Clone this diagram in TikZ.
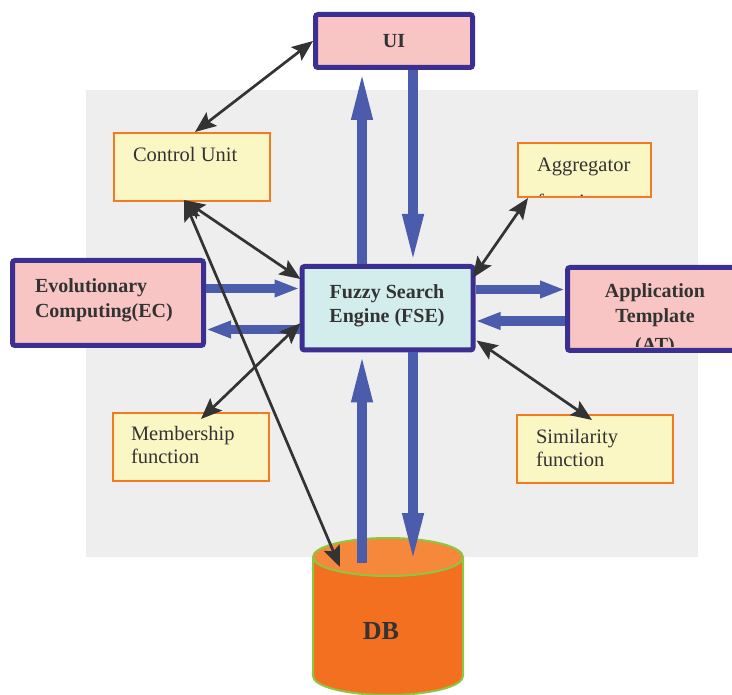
\documentclass[tikz,border=0pt]{standalone}
\usepackage{fontspec}
\setmainfont{Liberation Serif}
\usetikzlibrary{arrows.meta,calc}
\definecolor{panel}{HTML}{EEEEEE}
\definecolor{rose}{HTML}{F9C4C4}
\definecolor{frame}{HTML}{3B2F92}
\definecolor{cream}{HTML}{FBF7C5}
\definecolor{amber}{HTML}{F47A22}
\definecolor{ice}{HTML}{D3ECEC}
\definecolor{flowblue}{HTML}{4A5CAB}
\definecolor{ink}{HTML}{333333}
\definecolor{dbbody}{HTML}{F37021}
\definecolor{dbtop}{HTML}{F5883B}
\definecolor{dbrim}{HTML}{8DC63F}
\tikzset{
  mainbox/.style={draw=frame, line width=5pt, fill=rose, rounded corners=2.5pt, inner sep=0pt},
  notebox/.style={draw=amber, line width=2pt, fill=cream, inner sep=0pt},
  txt/.style={inner sep=0pt, outer sep=0pt, text=ink, anchor=base west, font=\fontsize{20.5}{24}\selectfont},
  btxt/.style={txt, font=\fontsize{20}{24}\selectfont\bfseries},
  flow/.style={draw=flowblue, line width=9.5pt, -{Triangle[length=25pt,width=16pt]}},
  longflow/.style={flow, -{Triangle[length=50pt,width=19pt]}},
  link/.style={draw=ink, line width=2.7pt, {Stealth[length=21pt,width=17pt,inset=4pt]}-{Stealth[length=21pt,width=17pt,inset=4pt]}}
}
\begin{document}
\begin{tikzpicture}[x=1pt,y=-1pt]
\useasboundingbox (0,0) rectangle (732,695);

% backdrop panel
\fill[panel] (86,90) rectangle (698,557);

% database cylinder
\draw[dbrim, line width=2pt, fill=dbbody] (313,557) -- (313,676)
  arc[start angle=180, end angle=0, x radius=75, y radius=19] -- (463,557);
\draw[dbrim, line width=2pt, fill=dbtop] (388,557) ellipse [x radius=75, y radius=19];
\node[btxt, anchor=base, font=\fontsize{26}{30}\selectfont\bfseries] (dbname) at (381,639) {DB};
\coordinate (dbin) at (388,563);
\coordinate (dbhit) at (340,567);

% main blocks
\node[mainbox, minimum width=157pt, minimum height=53pt] (ui) at (394,41) {};
\node[mainbox, minimum width=191pt, minimum height=85pt] (ec) at (108,303) {};
\node[mainbox, fill=ice, minimum width=171pt, minimum height=83.5pt] (fse) at (387.5,308.25) {};
\node[mainbox, minimum width=174.5pt, minimum height=83pt] (at) at (654.75,309) {};

% side notes
\node[notebox, minimum width=156pt, minimum height=68pt] (cu) at (192,167) {};
\node[notebox, minimum width=133pt, minimum height=54pt] (ag) at (584.5,170) {};
\node[notebox, minimum width=156pt, minimum height=68pt] (mf) at (191,447) {};
\node[notebox, minimum width=156pt, minimum height=68pt] (sf) at (595,449) {};

% labels
\node[btxt, anchor=base] (uit) at (394,48) {UI};
\node[btxt] (ec1) at (35,293) {Evolutionary};
\node[btxt] (ec2) at (35,318) {Computing(EC)};
\node[btxt, anchor=base] (fse1) at (387,299) {Fuzzy Search};
\node[btxt, anchor=base] (fse2) at (387,323) {Engine (FSE)};
\begin{scope}
  \clip (570,270) rectangle (732,347);
  \node[btxt, anchor=base] (at1) at (655,298) {Application};
  \node[btxt, anchor=base] (at2) at (655,323) {Template};
  \node[btxt, anchor=base] (at3) at (655,352) {(AT)};
\end{scope}
\node[txt] (cut) at (133,162) {Control Unit};
\begin{scope}
  \clip (519,144) rectangle (650,196);
  \node[txt] (ag1) at (537,172) {Aggregator};
  \node[txt] (ag2) at (537,209) {function};
\end{scope}
\node[txt] (mf1) at (131,441) {Membership};
\node[txt] (mf2) at (131,464) {function};
\node[txt] (sf1) at (536,444) {Similarity};
\node[txt] (sf2) at (536,467) {function};

% data flows
\coordinate (xu) at (362,0);
\coordinate (xd) at (413,0);
\coordinate (ya) at (0,288.5);
\coordinate (yb) at (0,329.5);
\coordinate (yc) at (0,289.5);
\coordinate (yd) at (0,321);
\draw[longflow] (fse.north -| xu) -- (ui.south -| xu);
\draw[longflow] (ui.south -| xd) -- (fse.north -| xd);
\draw[longflow] (fse.south -| xd) -- (dbin -| xd);
\draw[longflow] (dbin -| xu) -- (fse.south -| xu);
\draw[flow] (ec.east |- ya) -- (fse.west |- ya);
\draw[flow] (fse.west |- yb) -- (ec.east |- yb);
\draw[flow] (fse.east |- yc) -- (at.west |- yc);
\draw[flow] (at.west |- yd) -- (fse.east |- yd);

% control links
\draw[link] (ui.west) -- ($(cu.north)+(3,0)$);
\draw[link] ($(cu.south)+(-8,-2)$) -- ($(fse.north west)+(1,15)$);
\draw[link] ($(cu.south)+(-8,-2)$) -- (dbhit);
\draw[link] ($(fse.west)+(1,15)$) -- ($(mf.north)+(10,7)$);
\draw[link] ($(fse.north east)+(-3,14)$) -- ($(ag.south west)+(11,0)$);
\draw[link] ($(fse.south east)+(1,-12)$) -- ($(sf.north)+(-3,6)$);
\end{tikzpicture}
\end{document}
